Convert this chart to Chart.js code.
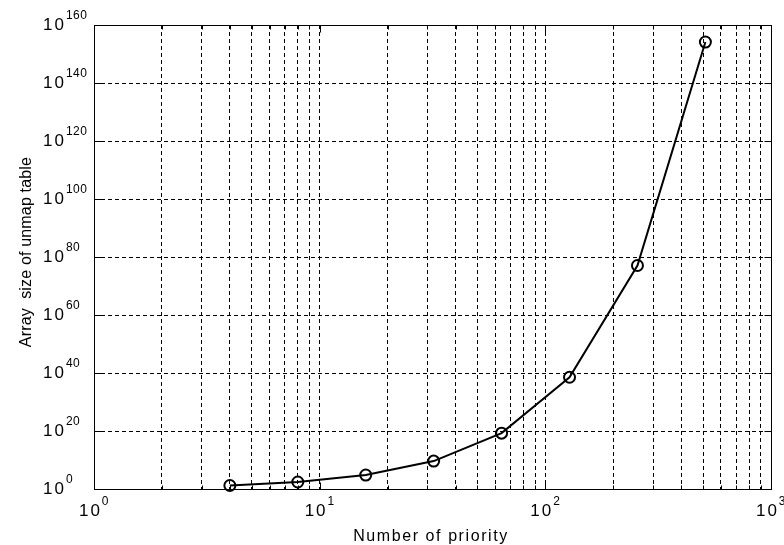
<!DOCTYPE html>
<html><head><meta charset="utf-8">
<script src="https://cdn.jsdelivr.net/npm/chart.js@4"></script>
<style>html,body{margin:0;padding:0;background:#fff}#wrap{width:784px;height:545px}</style>
</head><body><div id="wrap"><canvas id="c" width="784" height="545"></canvas></div>
<script>
const priorities = [4, 8, 16, 32, 64, 128, 256, 512];
const tableSizes = [16, 256, 6.55e4, 4.29e9, 1.84e19, 3.40e38, 1.16e77, 1.34e154];
const xTickExponents = [0, 1, 2, 3];
const yTickExponents = [0, 20, 40, 60, 80, 100, 120, 140, 160];
const xTitle = 'Number of priority';
const yTitle = 'Array  size of unmap table';

const xGridValues = [];
for (let d = 0; d < xTickExponents.length - 1; d++) {
  for (let m = 1; m <= 9; m++) xGridValues.push(m * Math.pow(10, xTickExponents[d]));
}
xGridValues.push(Math.pow(10, xTickExponents[xTickExponents.length - 1]));
const yGridValues = yTickExponents.map(e => Math.pow(10, e));

const FONT = '"Liberation Sans", Arial, sans-serif';

function drawPow(ctx, x, y, exp, align) {
  ctx.save();
  ctx.fillStyle = '#000';
  ctx.textBaseline = 'middle';
  ctx.textAlign = 'left';
  ctx.font = '17px ' + FONT;
  ctx.letterSpacing = '2px';
  const wb = ctx.measureText('10').width;
  ctx.font = '12px ' + FONT;
  ctx.letterSpacing = '0.5px';
  const we = ctx.measureText(String(exp)).width;
  let x0 = align === 'center' ? x - (wb + we) / 2 : x;
  ctx.font = '17px ' + FONT;
  ctx.letterSpacing = '2px';
  ctx.fillText('10', x0, y);
  ctx.font = '12px ' + FONT;
  ctx.letterSpacing = '0.5px';
  ctx.fillText(String(exp), x0 + wb, y - 9);
  ctx.restore();
}

function spacedText(ctx, text, target) {
  ctx.letterSpacing = '0px';
  const w = ctx.measureText(text).width;
  const ls = (target - w) / (text.length - 1);
  ctx.letterSpacing = ls.toFixed(2) + 'px';
}

const decorations = {
  id: 'decorations',
  afterDraw(chart) {
    const ctx = chart.ctx;
    const a = chart.chartArea;
    const xs = chart.scales.x, ys = chart.scales.y;
    const L = Math.round(a.left) + 0.5, R = Math.round(a.right) + 0.5;
    const T = Math.round(a.top) + 0.5, B = Math.round(a.bottom) + 0.5;
    ctx.save();
    ctx.strokeStyle = '#000';
    ctx.lineWidth = 1;
    ctx.setLineDash([]);
    ctx.strokeRect(L, T, R - L, B - T);
    ctx.beginPath();
    yGridValues.forEach(v => {
      const y = Math.round(ys.getPixelForValue(v)) + 0.5;
      ctx.moveTo(L, y); ctx.lineTo(L + 7, y);
      ctx.moveTo(R, y); ctx.lineTo(R - 7, y);
    });
    xGridValues.forEach(v => {
      const x = Math.round(xs.getPixelForValue(v)) + 0.5;
      const major = Math.abs(Math.log10(v) - Math.round(Math.log10(v))) < 1e-9;
      const len = major ? 7 : 4;
      ctx.moveTo(x, B); ctx.lineTo(x, B - len);
      ctx.moveTo(x, T); ctx.lineTo(x, T + len);
    });
    ctx.stroke();
    ctx.restore();

    yTickExponents.forEach(e => {
      drawPow(ctx, 43, ys.getPixelForValue(Math.pow(10, e)), e, 'left');
    });
    xTickExponents.forEach(e => {
      drawPow(ctx, xs.getPixelForValue(Math.pow(10, e)), 511, e, 'center');
    });

    ctx.save();
    ctx.fillStyle = '#000';
    ctx.font = '16px ' + FONT;
    ctx.textAlign = 'center';
    ctx.textBaseline = 'alphabetic';
    spacedText(ctx, xTitle, 154);
    ctx.fillText(xTitle, 431, 541);
    ctx.translate(31, 252);
    ctx.rotate(-Math.PI / 2);
    ctx.font = '16px ' + FONT;
    spacedText(ctx, yTitle, 190);
    ctx.fillText(yTitle, 0, 0);
    ctx.restore();
  }
};

new Chart(document.getElementById('c'), {
  type: 'line',
  data: {
    datasets: [{
      data: priorities.map((p, i) => ({ x: p, y: tableSizes[i] })),
      borderColor: '#000',
      borderWidth: 2,
      pointRadius: 5.5,
      pointBorderWidth: 2,
      pointBorderColor: '#000',
      pointBackgroundColor: 'rgba(0,0,0,0)',
      tension: 0,
      clip: false
    }]
  },
  options: {
    responsive: false,
    animation: false,
    devicePixelRatio: 1,
    layout: { padding: { left: 94, top: 25, right: 13, bottom: 56 } },
    plugins: { legend: { display: false }, tooltip: { enabled: false } },
    scales: {
      x: {
        type: 'logarithmic', min: 1, max: 1000,
        ticks: { display: false },
        grid: { color: '#000', lineWidth: 1, drawTicks: false },
        border: { display: false, dash: [4, 3] },
        afterBuildTicks: s => { s.ticks = xGridValues.map(v => ({ value: v })); }
      },
      y: {
        type: 'logarithmic', min: 1, max: 1e160,
        ticks: { display: false },
        grid: { color: '#000', lineWidth: 1, drawTicks: false },
        border: { display: false, dash: [4, 3] },
        afterBuildTicks: s => { s.ticks = yGridValues.map(v => ({ value: v })); }
      }
    }
  },
  plugins: [decorations]
});
</script>
</body></html>
